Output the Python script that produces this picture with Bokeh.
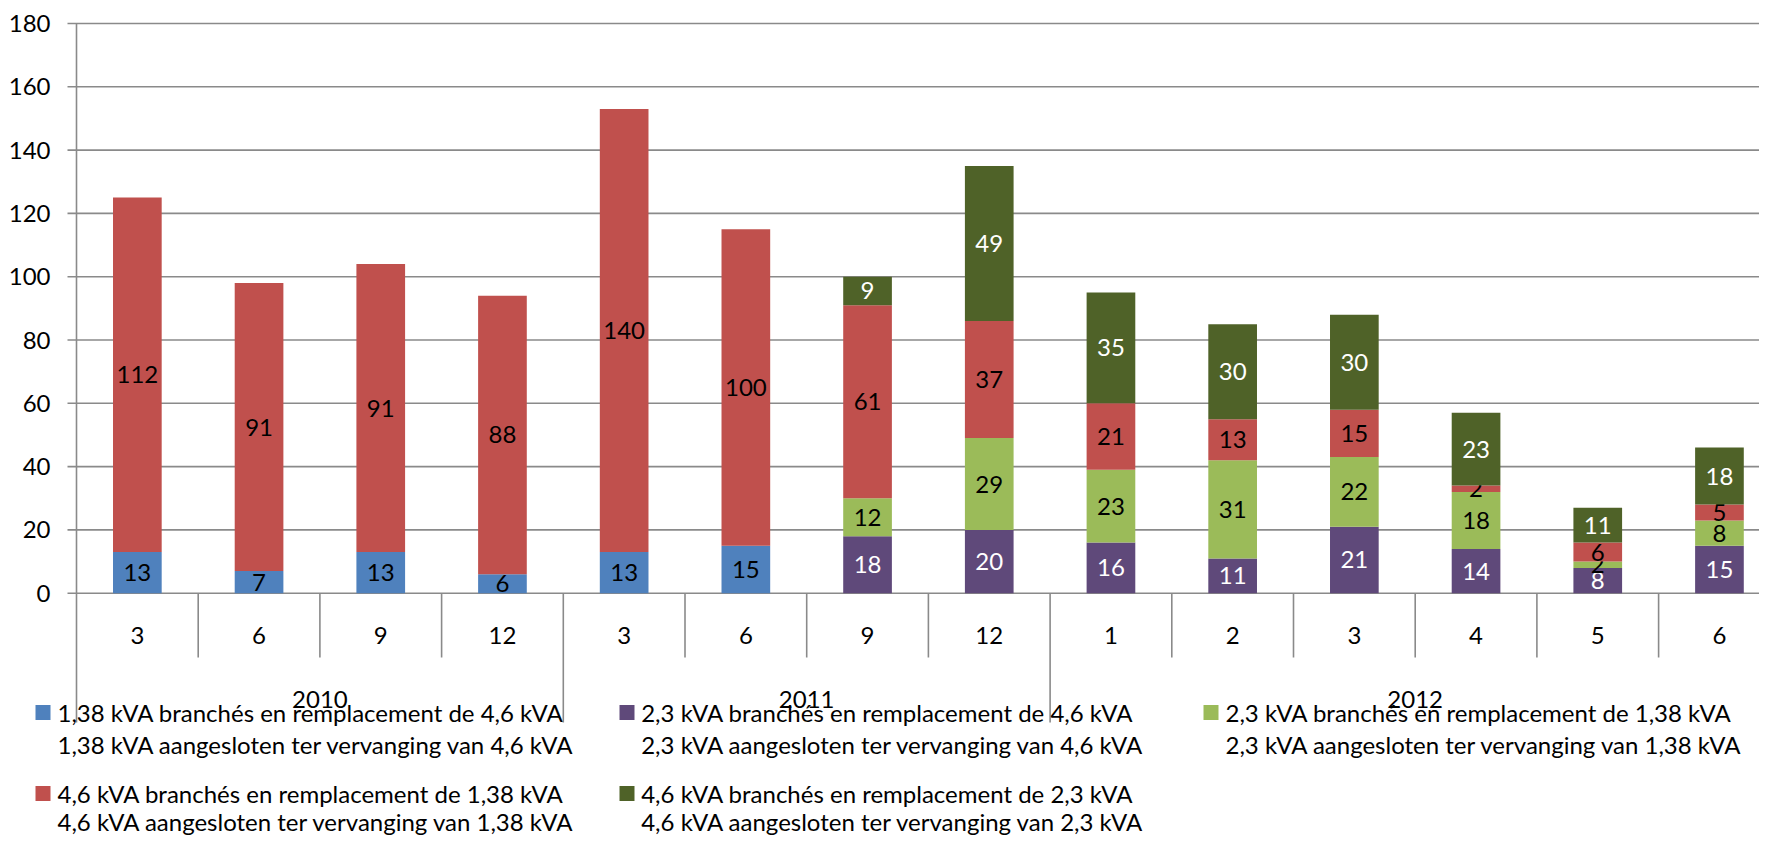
from bokeh.plotting import figure
from bokeh.models import Range1d, ColumnDataSource
from bokeh.core.properties import value
from bokeh.embed import file_html
from bokeh.resources import INLINE

# ---------------- data ----------------
months = ["3", "6", "9", "12", "3", "6", "9", "12", "1", "2", "3", "4", "5", "6"]
years = ["2010", "2011", "2012"]
year_sizes = [4, 4, 6]
y_ticks = [0, 20, 40, 60, 80, 100, 120, 140, 160, 180]

s_138_for_46 = [13, 7, 13, 6, 13, 15, 0, 0, 0, 0, 0, 0, 0, 0]
s_23_for_46 = [0, 0, 0, 0, 0, 0, 18, 20, 16, 11, 21, 14, 8, 15]
s_23_for_138 = [0, 0, 0, 0, 0, 0, 12, 29, 23, 31, 22, 18, 2, 8]
s_46_for_138 = [112, 91, 91, 88, 140, 100, 61, 37, 21, 13, 15, 2, 6, 5]
s_46_for_23 = [0, 0, 0, 0, 0, 0, 9, 49, 35, 30, 30, 23, 11, 18]

names_fr = [
    "1,38 kVA branchés en remplacement de 4,6 kVA",
    "2,3 kVA branchés en remplacement de 4,6 kVA",
    "2,3 kVA branchés en remplacement de 1,38 kVA",
    "4,6 kVA branchés en remplacement de 1,38 kVA",
    "4,6 kVA branchés en remplacement de 2,3 kVA",
]
names_nl = [
    "1,38 kVA aangesloten ter vervanging van 4,6 kVA",
    "2,3 kVA aangesloten ter vervanging van 4,6 kVA",
    "2,3 kVA aangesloten ter vervanging van 1,38 kVA",
    "4,6 kVA aangesloten ter vervanging van 1,38 kVA",
    "4,6 kVA aangesloten ter vervanging van 2,3 kVA",
]
series = [s_138_for_46, s_23_for_46, s_23_for_138, s_46_for_138, s_46_for_23]

# ---------------- styles / layout ----------------
colors = ["#4F81BD", "#5F497A", "#9BBB59", "#C0504D", "#4F6228"]
label_colors = ["black", "white", "black", "black", "white"]
FONT = value("Lato")
FS = "24px"
GRID = "#8a8a8a"

W, H = 1759, 835
FL = 76.0          # px of first category's left edge
CW = 121.7         # px per category
Y0 = 592.7         # px of value 0
YTOP = 23.0        # px of value 180
PPU = (Y0 - YTOP) / 180.0


def dx(px):
    return (px - FL) / CW


def dy(py):
    return (Y0 - py) / PPU


p = figure(width=W, height=H,
           x_range=Range1d(dx(0), dx(W)), y_range=Range1d(dy(H), dy(0)),
           x_axis_type=None, y_axis_type=None,
           toolbar_location=None, output_backend="svg",
           min_border=0, min_border_left=0, min_border_right=0,
           min_border_top=0, min_border_bottom=0,
           outline_line_color=None, background_fill_color="white",
           border_fill_color="white")
p.grid.visible = False

n = len(months)
xc = [i + 0.5 for i in range(n)]

# gridlines + y tick labels
p.segment(x0=[dx(67)] * len(y_ticks), y0=y_ticks, x1=[dx(W)] * len(y_ticks), y1=y_ticks,
          line_color=GRID, line_width=1.6)
p.text(x=[dx(50)] * len(y_ticks), y=y_ticks, text=[str(t) for t in y_ticks],
       text_font=FONT, text_font_size=FS, text_align="right", text_baseline="middle",
       text_color="black")

# stacked bars + data labels
bottoms = [0] * n
for k, s in enumerate(series):
    xs, b, t, mid, txt = [], [], [], [], []
    for i, v in enumerate(s):
        if v > 0:
            xs.append(xc[i]); b.append(bottoms[i]); t.append(bottoms[i] + v)
            mid.append(bottoms[i] + v / 2.0); txt.append(str(v))
    src = ColumnDataSource(dict(x=xs, bottom=b, top=t, mid=mid, txt=txt))
    p.vbar(x="x", bottom="bottom", top="top", width=0.4, source=src,
           fill_color=colors[k], line_color=None)
    p.text(x="x", y="mid", text="txt", source=src, text_font=FONT, text_font_size=FS,
           text_align="center", text_baseline="middle", text_color=label_colors[k])
    bottoms = [bottoms[i] + s[i] for i in range(n)]

# category axis: separators, month and year labels
year_starts = []
acc = 0
for sz in year_sizes:
    year_starts.append(acc)
    acc += sz
y_month_end = dy(657)
y_year_end = dy(722)
p.segment(x0=[0], y0=[180], x1=[0], y1=[y_year_end], line_color=GRID, line_width=1.6)
sx, sy1 = [], []
for i in range(1, n):
    sx.append(i)
    sy1.append(y_year_end if i in year_starts else y_month_end)
p.segment(x0=sx, y0=[0] * len(sx), x1=sx, y1=sy1, line_color=GRID, line_width=1.6)
p.text(x=xc, y=[dy(635)] * n, text=months, text_font=FONT, text_font_size=FS,
       text_align="center", text_baseline="middle", text_color="black")
yx = [year_starts[j] + year_sizes[j] / 2.0 for j in range(len(years))]
p.text(x=yx, y=[dy(699)] * len(years), text=years, text_font=FONT, text_font_size=FS,
       text_align="center", text_baseline="middle", text_color="black")

# legend (drawn)
col_marker = [42.5, 626.5, 1210.5]
col_text = [57.0, 640.7, 1225.0]
row_l1 = [712.0, 793.0]
row_l2 = [744.0, 821.0]
for k in range(len(series)):
    r, c = divmod(k, 3)
    p.scatter(x=[dx(col_marker[c])], y=[dy(row_l1[r])], marker="square", size=15,
              fill_color=colors[k], line_color=None)
    p.text(x=[dx(col_text[c])] * 2, y=[dy(row_l1[r]), dy(row_l2[r])],
           text=[names_fr[k], names_nl[k]], text_font=FONT, text_font_size=FS,
           text_align="left", text_baseline="middle", text_color="black")

open("out.html", "w").write(file_html(p, INLINE))
